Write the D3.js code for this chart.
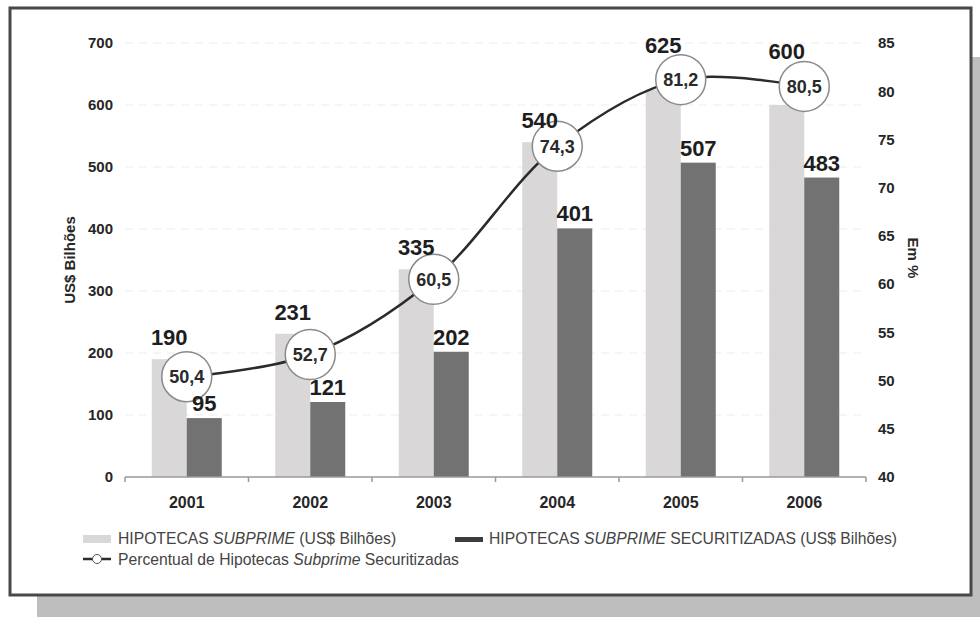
<!DOCTYPE html>
<html>
<head>
<meta charset="utf-8">
<script src="https://cdn.jsdelivr.net/npm/d3@7"></script>
<style>
  html, body { margin: 0; padding: 0; background: #fff; }
  svg { display: block; font-family: "Liberation Sans", Arial, sans-serif; }
</style>
</head>
<body>
<svg id="chart" width="980" height="617"></svg>
<script>
// Subprime mortgages, 2001–2006
const years = ["2001", "2002", "2003", "2004", "2005", "2006"];
const subprimeTotal = [190, 231, 335, 540, 625, 600];          // US$ bilhões
const subprimeSecuritized = [95, 121, 202, 401, 507, 483];     // US$ bilhões
const securitizedPct = [50.4, 52.7, 60.5, 74.3, 81.2, 80.5];   // %
const leftTicks = [0, 100, 200, 300, 400, 500, 600, 700];
const rightTicks = [40, 45, 50, 55, 60, 65, 70, 75, 80, 85];
const seriesNames = ["total", "securitized"];

const fmtPct = d => d.toFixed(1).replace(".", ",");

const svg = d3.select("#chart");

// drop shadow + framed panel
svg.append("rect").attr("x", 37).attr("y", 57).attr("width", 960).attr("height", 580).attr("fill", "#bebebe");
svg.append("rect").attr("x", 10).attr("y", 8).attr("width", 961).attr("height", 587)
  .attr("fill", "#fff").attr("stroke", "#484848").attr("stroke-width", 3);

const x = d3.scaleBand().domain(years).range([125, 866]);
const xs = d3.scaleBand().domain(seriesNames).range([0, x.bandwidth()]).paddingInner(0).paddingOuter(0.764);
const yL = d3.scaleLinear().domain([0, 700]).range([477, 43]);
const yR = d3.scaleLinear().domain([40, 85]).range([477, 43]);

// gridlines
svg.append("g").selectAll("line").data(leftTicks.slice(1)).join("line")
  .attr("x1", 125).attr("x2", 866)
  .attr("y1", d => yL(d)).attr("y2", d => yL(d))
  .attr("stroke", "#ececec").attr("stroke-width", 1).attr("stroke-dasharray", "8,6");

// bars
const colors = { total: "#d9d7d8", securitized: "#727272" };
const rows = years.map((y, i) => ({ year: y, total: subprimeTotal[i], securitized: subprimeSecuritized[i], pct: securitizedPct[i] }));

const barG = svg.append("g");
seriesNames.forEach(s => {
  barG.selectAll("rect." + s).data(rows).join("rect")
    .attr("class", s)
    .attr("x", d => x(d.year) + xs(s))
    .attr("width", xs.bandwidth())
    .attr("y", d => yL(d[s]))
    .attr("height", d => yL(0) - yL(d[s]))
    .attr("fill", colors[s]);
});

// x axis
const xAxis = svg.append("g").attr("transform", "translate(0,477)");
xAxis.append("line").attr("x1", 125).attr("x2", 866).attr("stroke", "#9a9a9a").attr("stroke-width", 1.5);
const bounds = years.map(y => x(y)).concat([x(years[years.length - 1]) + x.bandwidth()]);
xAxis.selectAll("line.tick").data(bounds).join("line").attr("class", "tick")
  .attr("x1", d => d).attr("x2", d => d).attr("y1", 0).attr("y2", 5)
  .attr("stroke", "#9a9a9a").attr("stroke-width", 1.5);
xAxis.selectAll("text").data(years).join("text")
  .attr("x", d => x(d) + x.bandwidth() / 2).attr("y", 31)
  .attr("text-anchor", "middle").attr("font-size", 16).attr("font-weight", "bold").attr("fill", "#262626")
  .text(d => d);

// left axis
const leftAxis = svg.append("g").attr("transform", "translate(113,0)")
  .call(d3.axisLeft(yL).tickValues(leftTicks).tickSize(0).tickPadding(0));
leftAxis.select(".domain").remove();
leftAxis.selectAll("text").attr("font-size", 15).attr("font-weight", "bold").attr("fill", "#262626")
  .attr("font-family", "Liberation Sans, Arial, sans-serif");

// right axis
const rightAxis = svg.append("g").attr("transform", "translate(878,0)")
  .call(d3.axisRight(yR).tickValues(rightTicks).tickSize(0).tickPadding(0));
rightAxis.select(".domain").remove();
rightAxis.selectAll("text").attr("font-size", 15).attr("font-weight", "bold").attr("fill", "#262626")
  .attr("font-family", "Liberation Sans, Arial, sans-serif");

// axis titles
svg.append("text").attr("transform", "translate(75,260) rotate(-90)")
  .attr("text-anchor", "middle").attr("font-size", 15).attr("font-weight", "bold").attr("fill", "#262626")
  .text("US$ Bilhões");
svg.append("text").attr("transform", "translate(908,258) rotate(90)")
  .attr("text-anchor", "middle").attr("font-size", 15).attr("font-weight", "bold").attr("fill", "#262626")
  .text("Em %");

// percentage line
const R = 25;
const cx = d => x(d.year) + x.bandwidth() / 2;
const line = d3.line().x(cx).y(d => yR(d.pct)).curve(d3.curveCatmullRom.alpha(0.5));
svg.append("path").datum(rows).attr("d", line)
  .attr("fill", "none").attr("stroke", "#2b2b2b").attr("stroke-width", 2.5);

// markers
const mk = svg.append("g").selectAll("g").data(rows).join("g")
  .attr("transform", d => `translate(${cx(d)},${yR(d.pct)})`);
mk.append("circle").attr("r", R).attr("fill", "#fff").attr("stroke", "#8a8a8a").attr("stroke-width", 1.5);
mk.append("text").attr("text-anchor", "middle").attr("dy", "0.36em")
  .attr("font-size", 18).attr("font-weight", "bold").attr("fill", "#2a2a2a")
  .text(d => fmtPct(d.pct));

// value labels on bars (lifted above the marker when it sits over the bar)
const labelG = svg.append("g");
labelG.selectAll("text.total").data(rows).join("text").attr("class", "total")
  .attr("x", d => x(d.year) + xs("total") + xs.bandwidth() / 2)
  .attr("y", d => {
    const top = yL(d.total), cy = yR(d.pct);
    return cy < top ? Math.min(top - 14, cy - R - 2) : top - 14;
  })
  .attr("text-anchor", "middle").attr("font-size", 22).attr("font-weight", "bold").attr("fill", "#1e1e1e")
  .text(d => d.total);
labelG.selectAll("text.sec").data(rows).join("text").attr("class", "sec")
  .attr("x", d => x(d.year) + xs("securitized") + xs.bandwidth() / 2)
  .attr("y", d => yL(d.securitized) - 7)
  .attr("text-anchor", "middle").attr("font-size", 22).attr("font-weight", "bold").attr("fill", "#1e1e1e")
  .text(d => d.securitized);

// legend
const leg = svg.append("g").attr("font-size", 15.7).attr("fill", "#444");
leg.append("rect").attr("x", 83).attr("y", 535).attr("width", 28).attr("height", 8).attr("fill", colors.total);
const t1 = leg.append("text").attr("x", 118).attr("y", 544);
t1.append("tspan").text("HIPOTECAS ");
t1.append("tspan").attr("font-style", "italic").text("SUBPRIME");
t1.append("tspan").text(" (US$ Bilhões)");

leg.append("rect").attr("x", 455).attr("y", 537).attr("width", 28).attr("height", 5).attr("fill", "#3c3c3c");
const t2 = leg.append("text").attr("x", 489).attr("y", 544);
t2.append("tspan").text("HIPOTECAS ");
t2.append("tspan").attr("font-style", "italic").text("SUBPRIME");
t2.append("tspan").text(" SECURITIZADAS (US$ Bilhões)");

leg.append("line").attr("x1", 83).attr("x2", 111).attr("y1", 559).attr("y2", 559)
  .attr("stroke", "#2b2b2b").attr("stroke-width", 2.5);
leg.append("circle").attr("cx", 97).attr("cy", 559).attr("r", 4.5).attr("fill", "#fff").attr("stroke", "#555").attr("stroke-width", 1);
const t3 = leg.append("text").attr("x", 118).attr("y", 565);
t3.append("tspan").text("Percentual de Hipotecas ");
t3.append("tspan").attr("font-style", "italic").text("Subprime");
t3.append("tspan").text(" Securitizadas");
</script>
</body>
</html>
